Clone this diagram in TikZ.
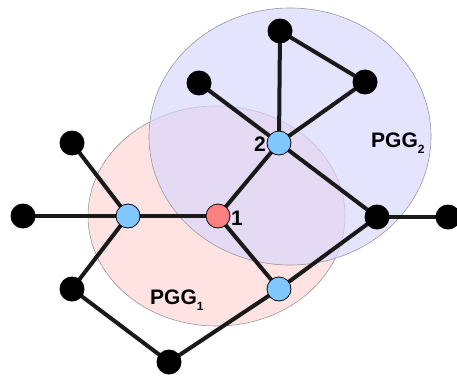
\documentclass[tikz,border=0pt]{standalone}
\usepackage{fontspec}
\setmainfont{Liberation Sans}
\pgfdeclarelayer{grp}
\pgfdeclarelayer{edges}
\pgfsetlayers{grp,edges,main}
\begin{document}
\begin{tikzpicture}[x=1pt,y=-1pt,
  blk/.style={circle,fill=black,inner sep=0pt,minimum size=25pt},
  bluen/.style={circle,draw=black,line width=0.8pt,fill={rgb,255:red,128;green,200;blue,255},inner sep=0pt,minimum size=24pt},
  redn/.style={circle,draw=black,line width=0.8pt,fill={rgb,255:red,255;green,128;blue,128},inner sep=0pt,minimum size=24pt},
  edge/.style={line width=4pt,draw=black!90,shorten >=-3pt,shorten <=-3pt},
  lbl/.style={font=\bfseries\fontsize{21}{21}\selectfont,inner sep=0pt},
  grp/.style={draw=black!40,line width=0.6pt}]
\useasboundingbox (0,0) rectangle (457,377);
\clip (0,0) rectangle (457,377);
\begin{pgfonlayer}{grp}
\fill[white] (0,0) rectangle (457,377);
\draw[grp,fill={rgb,255:red,255;green,215;blue,215},fill opacity=0.7] (216.5,216) ellipse [x radius=128.5,y radius=110];
\draw[grp,fill={rgb,255:red,215;green,215;blue,255},fill opacity=0.65] (290,136.5) ellipse [x radius=141,y radius=128.5];
\end{pgfonlayer}
% nodes
\node[blk] (t) at (280,31) {};
\node[blk] (rt) at (365,82) {};
\node[blk] (tl) at (199,83) {};
\node[bluen] (n2) at (279,143) {};
\node[blk] (lt) at (72,143) {};
\node[blk] (l) at (23,216) {};
\node[bluen] (bl) at (128,216) {};
\node[redn] (n1) at (218,216) {};
\node[blk] (r) at (377,217) {};
\node[blk] (fr) at (448,217) {};
\node[blk] (ll) at (72,289) {};
\node[bluen] (bb) at (279,289) {};
\node[blk] (b) at (169,362) {};
% edges
\begin{pgfonlayer}{edges}
\draw[edge] (t) -- (rt);
\draw[edge] (t) -- (n2);
\draw[edge] (rt) -- (n2);
\draw[edge] (tl) -- (n2);
\draw[edge] (n2) -- (n1);
\draw[edge] (n2) -- (r);
\draw[edge] (r) -- (fr);
\draw[edge] (r) -- (bb);
\draw[edge] (n1) -- (bb);
\draw[edge] (n1) -- (bl);
\draw[edge] (bl) -- (l);
\draw[edge] (bl) -- (lt);
\draw[edge] (bl) -- (ll);
\draw[edge] (ll) -- (b);
\draw[edge] (b) -- (bb);
\end{pgfonlayer}
% labels
\node[lbl,anchor=east] (l2) at (266,144) {2};
\node[lbl,anchor=west] (l1) at (231,218) {1};
\node[lbl,anchor=base west] (p2) at (371,147) {PGG\raisebox{-6pt}{\fontsize{12}{12}\selectfont 2}};
\node[lbl,anchor=base west] (p1) at (150,304) {PGG\raisebox{-6pt}{\fontsize{12}{12}\selectfont 1}};
\end{tikzpicture}
\end{document}
